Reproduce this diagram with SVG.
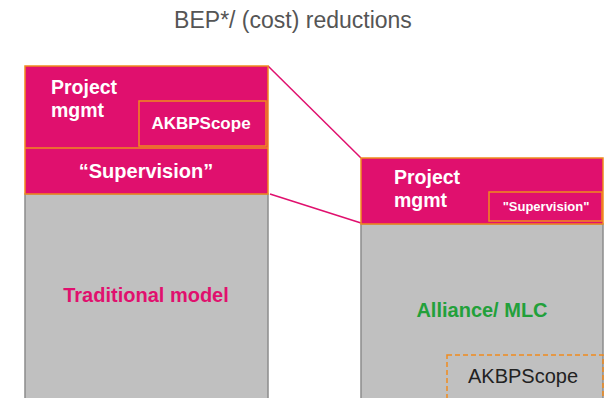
<svg xmlns="http://www.w3.org/2000/svg" width="613" height="398" viewBox="0 0 613 398">
  <style>
    .pink { fill: #E0106E; stroke: #F08A1E; stroke-width: 1.5; }
    .gray { fill: #C0C0C0; stroke: #8C8C8C; stroke-width: 1.5; }
    .inner { fill: none; stroke: #F08A1E; stroke-width: 1.5; }
    .dash { fill: none; stroke: #F08A1E; stroke-width: 1.5; stroke-dasharray: 5 3; }
    .wb { font-family: "Liberation Sans", Arial, sans-serif; font-weight: bold; fill: #FFFFFF; }
    .link { stroke: #E0106E; stroke-width: 1.5; fill: none; }
    text { font-family: "Liberation Sans", Arial, sans-serif; }
  </style>

  <text x="293" y="28" font-size="23" fill="#555555" text-anchor="middle">BEP*/ (cost) reductions</text>

  <g id="connectors">
    <line class="link" x1="268" y1="66" x2="361" y2="158"/>
    <line class="link" x1="270" y1="194" x2="361" y2="223"/>
  </g>

  <g id="traditional">
    <rect class="gray" x="25" y="194" width="243" height="210"/>
    <rect class="pink" x="25" y="66" width="243" height="128"/>
    <line class="inner" x1="25" y1="148" x2="268" y2="148"/>
    <rect class="inner" x="139" y="101" width="127" height="45"/>
    <text class="wb" x="51" y="94" font-size="19.5">Project</text>
    <text class="wb" x="51" y="117" font-size="19.5">mgmt</text>
    <text class="wb" x="201" y="129" font-size="17" text-anchor="middle">AKBPScope</text>
    <text class="wb" x="146" y="178" font-size="20" text-anchor="middle">“Supervision”</text>
    <text x="146" y="302" font-size="20" font-weight="bold" fill="#E0106E" text-anchor="middle">Traditional model</text>
  </g>

  <g id="alliance">
    <rect class="gray" x="361" y="224" width="242" height="180"/>
    <rect class="pink" x="361" y="158" width="242" height="66"/>
    <rect class="inner" x="489" y="192" width="113" height="29"/>
    <text class="wb" x="394" y="184" font-size="19.5">Project</text>
    <text class="wb" x="394" y="207" font-size="19.5">mgmt</text>
    <text class="wb" x="546" y="211" font-size="13" text-anchor="middle">"Supervision"</text>
    <text x="482" y="317" font-size="20" font-weight="bold" fill="#22A03A" text-anchor="middle">Alliance/ MLC</text>
    <rect class="dash" x="447" y="355" width="156" height="50"/>
    <text x="523" y="383" font-size="20" fill="#222222" text-anchor="middle">AKBPScope</text>
  </g>
</svg>
